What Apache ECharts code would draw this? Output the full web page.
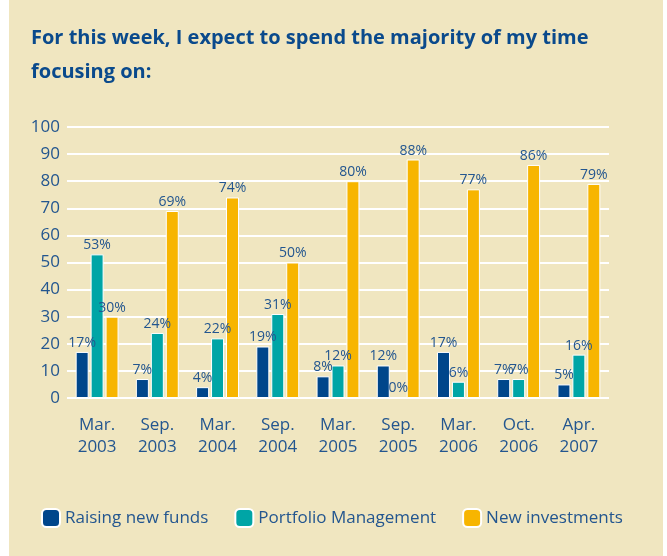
<!DOCTYPE html>
<html>
<head>
    <meta charset="utf-8" />
    <title>ECharts</title>
    <script src="https://cdn.jsdelivr.net/npm/echarts@6.0.0/dist/echarts.min.js"></script>
    <style>
        body { margin: 0; background: #fff; }
    </style>
</head>
<body>
    <div id="main" style="width: 667px;height:556px;"></div>
    <script type="text/javascript">
        // 数据
        var categories = ['Mar.\n2003', 'Sep.\n2003', 'Mar.\n2004', 'Sep.\n2004', 'Mar.\n2005',
            'Sep.\n2005', 'Mar.\n2006', 'Oct.\n2006', 'Apr.\n2007'];
        var raisingFunds = [17, 7, 4, 19, 8, 12, 17, 7, 5];
        var portfolioMgmt = [53, 24, 22, 31, 12, 0, 6, 7, 16];
        var newInvestments = [30, 69, 74, 50, 80, 88, 77, 86, 79];
        var yTicks = [0, 10, 20, 30, 40, 50, 60, 70, 80, 90, 100];

        var textColor = '#23568f';
        var fontFamily = '"Open Sans", "Noto Sans", sans-serif';

        var myChart = echarts.init(document.getElementById('main'));

        var labelOption = {
            show: true,
            position: 'top',
            distance: 2,
            formatter: '{c}%',
            fontSize: 14,
            color: textColor,
            fontFamily: fontFamily
        };

        function makeSeries(name, data, color) {
            return {
                name: name,
                type: 'bar',
                data: data,
                barWidth: 13,
                barGap: '15%',
                itemStyle: { color: color, borderColor: '#ffffff', borderWidth: 1 },
                label: labelOption
            };
        }

        var option = {
            backgroundColor: '#ffffff',
            // 米色背景板（左右留白）
            graphic: [{
                type: 'rect',
                left: 9,
                top: 0,
                shape: { width: 654, height: 556 },
                style: { fill: '#f0e6c0' },
                z: -10,
                silent: true
            }],
            title: {
                text: 'For this week, I expect to spend the majority of my time\nfocusing on:',
                left: 26,
                top: 16,
                textStyle: {
                    color: '#0a4a8c',
                    fontSize: 20,
                    fontWeight: 'bold',
                    fontFamily: fontFamily,
                    lineHeight: 34
                }
            },
            legend: {
                data: ['Raising new funds', 'Portfolio Management', 'New investments'],
                left: 36,
                top: 503,
                itemWidth: 18,
                itemHeight: 18,
                itemGap: 26,
                textStyle: { color: textColor, fontSize: 17, fontFamily: fontFamily },
                itemStyle: { borderColor: '#ffffff', borderWidth: 2 }
            },
            grid: { left: 67, right: 58, top: 127, bottom: 158 },
            xAxis: {
                type: 'category',
                data: categories,
                axisLine: { show: false },
                axisTick: { show: false },
                axisLabel: {
                    color: textColor,
                    fontSize: 17,
                    lineHeight: 22,
                    margin: 16,
                    fontFamily: fontFamily
                }
            },
            yAxis: {
                type: 'value',
                min: yTicks[0],
                max: yTicks[yTicks.length - 1],
                interval: 10,
                axisLine: { show: false },
                axisTick: { show: false },
                axisLabel: {
                    color: textColor,
                    fontSize: 17,
                    margin: 7,
                    fontFamily: fontFamily
                },
                splitLine: { lineStyle: { color: '#ffffff', width: 2 } }
            },
            series: [
                makeSeries('Raising new funds', raisingFunds, '#00468b'),
                makeSeries('Portfolio Management', portfolioMgmt, '#00a5a6'),
                makeSeries('New investments', newInvestments, '#f7b500')
            ],
            animation: false
        };

        myChart.setOption(option);
    </script>
</body>
</html>
